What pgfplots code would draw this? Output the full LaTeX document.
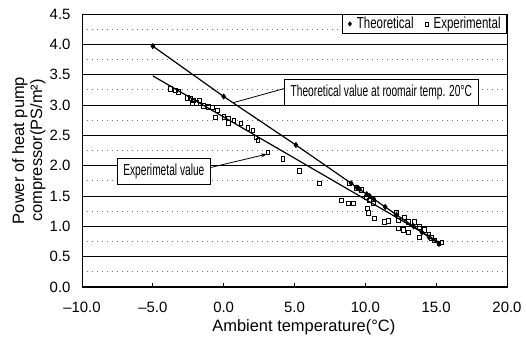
\documentclass[border=0pt]{standalone}
\usepackage{fontspec}
\setmainfont{Liberation Sans}
\newfontfamily\cond[FakeStretch=0.64]{Liberation Sans}
\newfontfamily\condl[FakeStretch=0.72]{Liberation Sans}
\usepackage{pgfplots}
\pgfplotsset{compat=1.18}
\usetikzlibrary{arrows.meta}

\begin{document}
\begin{tikzpicture}
\begin{axis}[name=ax, scale only axis, width=425bp, height=273bp,
  xmin=-10, xmax=20, ymin=0, ymax=4.5,
  xtick={-10,-5,0,5,10,15,20},
  xticklabels={\textendash10.0,\textendash5.0,0.0,5.0,10.0,15.0,20.0},
  ytick={0,0.5,1,1.5,2,2.5,3,3.5,4,4.5},
  yticklabels={0.0,0.5,1.0,1.5,2.0,2.5,3.0,3.5,4.0,4.5},
  minor ytick={0.25,0.75,1.25,1.75,2.25,2.75,3.25,3.75,4.25},
  ymajorgrids, yminorgrids,
  major grid style={black, line width=1pt},
  minor grid style={black!55, dash pattern=on 1bp off 4bp, line width=0.7pt},
  tick align=inside, tick pos=left,
  major tick length=4bp, minor tick length=0pt,
  ytick style={draw=none},
  xtick style={black, line width=0.8pt},
  tick label style={font=\fontsize{15}{17}\selectfont},
  xticklabel style={yshift=-12bp},
  yticklabel style={xshift=-8bp},
  axis line style={line width=0.9pt},
  ylabel={Power of heat pump\\compressor(PS/m²)},
  ylabel style={align=center, font=\fontsize{16.5}{18}\selectfont, at={(axis description cs:-0.125,0.5)}, anchor=center},
  xlabel={Ambient temperature(°C)},
  xlabel style={font=\fontsize{16.5}{18}\selectfont, at={(axis description cs:0.522,0)}, anchor=center, yshift=-40bp},
  legend style={at={(1,1)}, anchor=north east, draw=black, line width=0.8pt,
    font=\condl\fontsize{16}{18}\selectfont, inner xsep=4bp, inner ysep=1bp,
    /tikz/every even column/.append style={column sep=8bp}},
  legend image code/.code={\draw[#1, only marks] plot coordinates {(0bp,0bp)}; \path[draw=none] (-3bp,0bp) -- (5bp,0bp);},
  legend columns=2, legend cell align=left,
]
% theoretical line with markers
\addplot[black, line width=1.2pt, mark=diamond*, mark size=2.2bp, mark options={solid}, forget plot] coordinates {
(-5,3.97) (0.0,3.14) (5.1,2.34) (9.0,1.71) (9.4,1.64) (9.6,1.61) (10.1,1.53) (10.3,1.50) (10.6,1.45) (11.4,1.32) (12.2,1.19) (13.4,1.00) (14.0,0.90) (14.5,0.82) (15.2,0.71)
};
% experimental regression line
\addplot[black, line width=1.2pt, forget plot] coordinates {(-5,3.48) (15.2,0.74)};
% experimental points
\addplot[only marks, black, mark=square, mark size=2.3bp, mark options={xscale=0.8, line width=0.6pt}, forget plot] coordinates {
(-3.76,3.27) (-3.40,3.24) (-3.19,3.22) (-2.55,3.12) (-2.34,3.11) (-2.20,3.03) (-2.13,3.08) (-1.91,3.04)
(-1.70,3.08) (-1.42,2.99) (-1.1,2.97) (-0.78,2.96) (-0.57,2.80) (-0.43,2.91) (0.0,2.81) (0.35,2.78) (0.35,2.71)
(0.71,2.75) (1.21,2.70) (1.70,2.62) (2.06,2.58) (2.27,2.47) (2.41,2.42) (3.12,2.22) (4.18,2.11)
(5.32,1.92) (6.74,1.71) (8.87,1.71) (9.36,1.64) (9.72,1.60) (8.30,1.43) (8.79,1.38) (9.15,1.38)
(10.07,1.48) (10.28,1.43) (10.57,1.38) (10.14,1.30) (10.21,1.22) (10.64,1.13) (11.35,1.07) (11.63,1.09)
(12.20,1.22) (12.34,1.10) (12.34,0.97) (12.70,0.94) (12.77,1.15) (13.05,1.07) (13.05,0.90) (13.48,1.07)
(13.83,0.99) (14.18,0.94) (13.83,0.82) (14.47,0.86) (14.68,0.81) (14.89,0.77) (15.39,0.74) (15.18,0.72)
};
\addlegendimage{black, mark=diamond*, mark size=2bp}
\addlegendentry{Theoretical}
\addlegendimage{black, mark=square, mark size=2bp, mark options={xscale=0.8, line width=0.6pt}}
\addlegendentry{Experimental}
% annotations
\node[draw, line width=0.8pt, fill=white, font=\cond\fontsize{16}{18}\selectfont, minimum height=26bp, inner xsep=6bp] at (axis cs:11.13,3.21) {Theoretical value at roomair temp. 20°C};
\draw[line width=0.8pt] (axis cs:4.26,3.27) -- (axis cs:0.71,3.04);
\node[draw, line width=0.8pt, fill=white, font=\cond\fontsize{16}{18}\selectfont, minimum height=26bp, inner xsep=6bp] at (axis cs:-4.22,1.91) {Experimetal value};
\draw[-{Stealth[length=6bp,width=4bp]}, line width=0.8pt] (axis cs:-0.92,1.97) -- (axis cs:3.05,2.19);
\end{axis}
\path ([shift={(-82bp,-49bp)}]ax.south west) rectangle ([shift={(19bp,14bp)}]ax.north east);
\end{tikzpicture}
\end{document}
